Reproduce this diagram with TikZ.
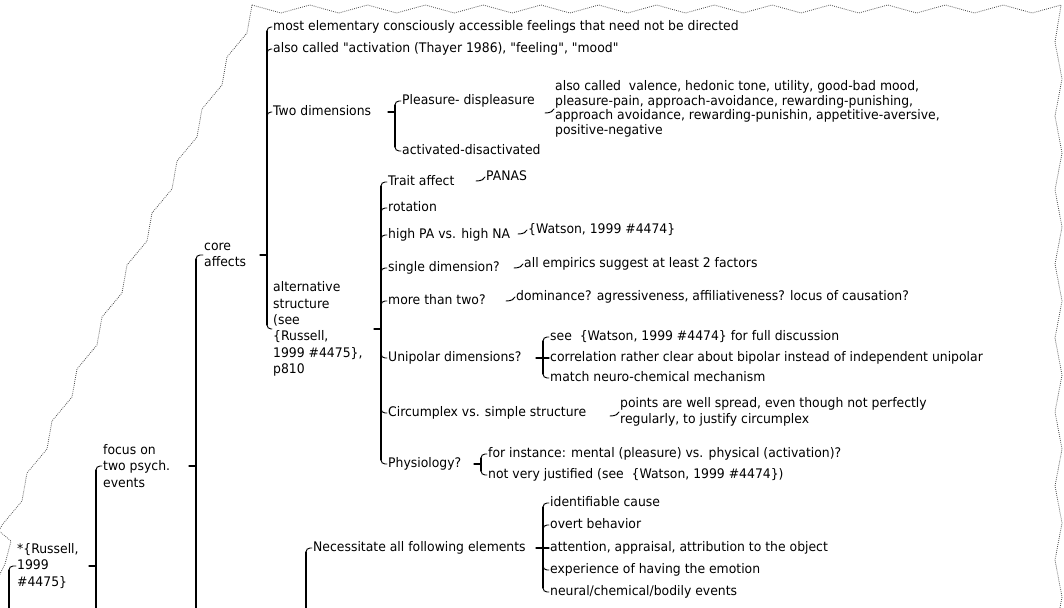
\documentclass[tikz,border=0pt]{standalone}
\usepackage{fontspec}
\setmainfont{DejaVu Sans}[Ligatures=TeXOff,FakeStretch=0.94]
\usetikzlibrary{calc}

% bracket pieces: vertical spine, child ticks, parent stub, single link
\newcommand\tkvert[3]{\draw[link] ($(#1 |- #2.west)+(0,4)$) -- ($(#1 |- #3.west)+(0,-4)$);}
\newcommand\tkopen[2]{\draw[link] ($(#1 |- #2.west)+(0,4)$) -- (#1 |- pagebottom);}
\newcommand\tkup[2]{\draw[hook] ($(#1 |- #2.west)+(0,5)$) |- ($(#2.west)+(-1,0)$);}
\newcommand\tkdown[2]{\draw[hook] ($(#1 |- #2.west)+(0,-5)$) |- ($(#2.west)+(-1,0)$);}
\newcommand\tkflat[2]{\draw[link] (#1 |- #2.west) -- ($(#2.west)+(-1,0)$);}
\newcommand\tkstub[2]{\draw[link] ($(#1 |- #2.west)+(-7,0)$) -- (#1 |- #2.west);}
\newcommand\tksolo[2]{\draw[hook] ($(#2.west)+(-10,4)$) .. controls ($(#2.west)+(-4,4)$) and ($(#2.west)+(-2,2)$) .. ($(#2.west)+(-1,0)$);}

\begin{document}
\begin{tikzpicture}[x=1pt,y=-1pt,
  topic/.style={anchor=west,inner sep=0pt,font=\fontsize{13.2}{16.4}\selectfont,text height=9.5pt,text depth=3pt},
  topicml/.style={anchor=west,inner sep=0pt,font=\fontsize{13.2}{16.4}\selectfont,align=left},
  link/.style={line width=1.1pt,line cap=round},
  hook/.style={line width=0.95pt,line cap=round,rounded corners=4pt},
  border/.style={line width=0.8pt,dash pattern=on 0.8pt off 1.2pt,black!70}
]
\useasboundingbox (0,0) rectangle (1064,607);
\coordinate (pagebottom) at (0,612);

% torn edge of the sheet
\draw[border] (252,5) \foreach \k in {0,...,13} { -- ({252+57.79*\k+28.9},13) -- ({252+57.79*(\k+1)},5) }
  \foreach \j in {0,...,8} { -- (1055,{42+74*\j}) -- (1062,{79+74*\j}) };
\draw[border] (252,5) \foreach \k in {0,...,9} { -- ({247-25*\k},{33+52*\k}) -- ({227-25*\k},{57+52*\k}) }
  -- (-1,531) -- (11,541) -- (5,564) -- (-2,578);

% topics
\node[topicml] (root) at (17,566) {*\{Russell,\\1999\\\#4475\}};
\node[topicml] (focus) at (103,466) {focus on\\two psych.\\events};
\node[topicml] (core) at (204,255) {core\\affects};

\node[topic] (elem) at (273,27) {most elementary consciously accessible feelings that need not be directed};
\node[topic] (alsocalled) at (273,49) {also called "activation (Thayer 1986), "feeling", "mood"};
\node[topic] (twodim) at (273,112) {Two dimensions};
\node[topicml] (alt) at (273,329) {alternative\\structure\\(see\\\{Russell,\\1999 \#4475\},\\p810};

\node[topic] (pleas) at (402,101) {Pleasure- displeasure};
\node[topic] (activ) at (402,151) {activated-disactivated};
\node[topicml,font=\fontsize{13.2}{14.6}\selectfont] (valence) at (555,109)
  {also called~ valence, hedonic tone, utility, good-bad mood,\\
   pleasure-pain, approach-avoidance, rewarding-punishing,\\
   approach avoidance, rewarding-punishin, appetitive-aversive,\\
   positive-negative};

\node[topic] (trait) at (388,182) {Trait affect};
\node[topic] (rot) at (388,208) {rotation};
\node[topic] (hipa) at (388,235) {high PA vs. high NA};
\node[topic] (single) at (388,268) {single dimension?};
\node[topic] (more) at (388,301) {more than two?};
\node[topic] (unip) at (388,358) {Unipolar dimensions?};
\node[topic] (circ) at (388,413) {Circumplex vs. simple structure};
\node[topic] (phys) at (388,464) {Physiology?};

\node[topic] (panas) at (486,177) {PANAS};
\node[topic] (wats) at (528,230) {\{Watson, 1999 \#4474\}};
\node[topic] (empir) at (524,264) {all empirics suggest at least 2 factors};
\node[topic] (domin) at (516,297) {dominance? agressiveness, affiliativeness? locus of causation?};

\node[topic] (seew) at (550,337) {see~ \{Watson, 1999 \#4474\} for full discussion};
\node[topic] (corr) at (550,358) {correlation rather clear about bipolar instead of independent unipolar};
\node[topic] (match) at (550,378) {match neuro-chemical mechanism};
\node[topicml] (points) at (620,412) {points are well spread, even though not perfectly\\regularly, to justify circumplex};
\node[topic] (inst) at (488,454) {for instance: mental (pleasure) vs. physical (activation)?};
\node[topic] (notj) at (488,475) {not very justified (see~ \{Watson, 1999 \#4474\})};

\node[topic] (necess) at (313,548) {Necessitate all following elements};
\node[topic] (cause) at (550,503) {identifiable cause};
\node[topic] (overt) at (550,525) {overt behavior};
\node[topic] (attn) at (550,548) {attention, appraisal, attribution to the object};
\node[topic] (exper) at (550,570) {experience of having the emotion};
\node[topic] (neural) at (550,592) {neural/chemical/bodily events};

% spine positions
\coordinate (bxRootIn) at ($(root.west)+(-8,0)$);
\coordinate (bxRoot) at ($(focus.west)+(-7,0)$);
\coordinate (bxFocus) at ($(core.west)+(-8,0)$);
\coordinate (bxCore) at ($(elem.west)+(-6,0)$);
\coordinate (bxTwo) at ($(pleas.west)+(-7,0)$);
\coordinate (bxAlt) at ($(trait.west)+(-7,0)$);
\coordinate (bxUni) at ($(seew.west)+(-7,0)$);
\coordinate (bxPhys) at ($(inst.west)+(-7,0)$);
\coordinate (bxNecIn) at ($(necess.west)+(-7,0)$);
\coordinate (bxNec) at ($(cause.west)+(-7,0)$);

% root and its branch
\tkopen{bxRootIn}{root} \tkup{bxRootIn}{root}
\tkstub{bxRoot}{root} \tkopen{bxRoot}{focus} \tkup{bxRoot}{focus}
\tkstub{bxFocus}{focus} \tkopen{bxFocus}{core} \tkup{bxFocus}{core}

% core affects
\tkstub{bxCore}{core} \tkvert{bxCore}{elem}{alt}
\tkup{bxCore}{elem} \tkup{bxCore}{alsocalled} \tkup{bxCore}{twodim} \tkdown{bxCore}{alt}

% two dimensions
\tkstub{bxTwo}{twodim} \tkvert{bxTwo}{pleas}{activ}
\tkup{bxTwo}{pleas} \tkdown{bxTwo}{activ}
\tksolo{pleas}{valence}

% alternative structure
\tkstub{bxAlt}{alt} \tkvert{bxAlt}{trait}{phys}
\tkup{bxAlt}{trait} \tkup{bxAlt}{rot} \tkup{bxAlt}{hipa} \tkup{bxAlt}{single} \tkup{bxAlt}{more}
\tkdown{bxAlt}{unip} \tkdown{bxAlt}{circ} \tkdown{bxAlt}{phys}
\tksolo{trait}{panas} \tksolo{hipa}{wats} \tksolo{single}{empir} \tksolo{more}{domin}
\tksolo{circ}{points}

\tkstub{bxUni}{unip} \tkvert{bxUni}{seew}{match}
\tkup{bxUni}{seew} \tkflat{bxUni}{corr} \tkdown{bxUni}{match}

\tkstub{bxPhys}{phys} \tkvert{bxPhys}{inst}{notj}
\tkup{bxPhys}{inst} \tkdown{bxPhys}{notj}

% necessitate
\tkopen{bxNecIn}{necess} \tkup{bxNecIn}{necess}
\tkstub{bxNec}{necess} \tkvert{bxNec}{cause}{neural}
\tkup{bxNec}{cause} \tkup{bxNec}{overt} \tkflat{bxNec}{attn} \tkdown{bxNec}{exper} \tkdown{bxNec}{neural}
\end{tikzpicture}
\end{document}
